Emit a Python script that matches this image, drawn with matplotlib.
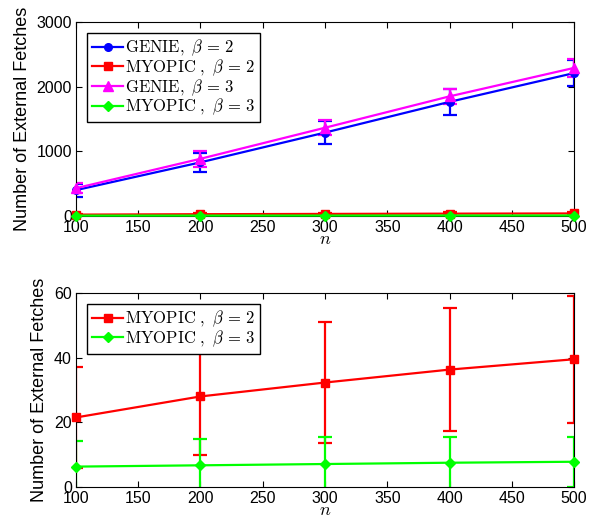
import numpy as np
import matplotlib
matplotlib.use("Agg")
import matplotlib.pyplot as plt
from matplotlib.lines import Line2D

plt.rcParams["mathtext.fontset"] = "cm"
plt.rcParams["font.family"] = ["Liberation Sans", "DejaVu Sans"]

N = [100, 200, 300, 400, 500]

# mean and error half-width
GENIE_B2 = [400, 830, 1290, 1765, 2210]
GENIE_B2_ERR = [100, 150, 180, 205, 205]
GENIE_B3 = [430, 885, 1365, 1850, 2290]
GENIE_B3_ERR = [80, 120, 120, 120, 145]
MYOPIC_B2 = [21.5, 28.0, 32.3, 36.3, 39.5]
MYOPIC_B2_ERR = [15.5, 18.2, 18.7, 19.0, 19.7]
MYOPIC_B3 = [6.3, 6.7, 7.1, 7.5, 7.8]
MYOPIC_B3_ERR = [8.0, 8.2, 8.5, 8.0, 7.7]

X_TICKS = [100, 150, 200, 250, 300, 350, 400, 450, 500]
TOP_Y_TICKS = [0, 1000, 2000, 3000]
BOTTOM_Y_TICKS = [0, 20, 40, 60]

SERIES = {
    "genie2": (GENIE_B2, GENIE_B2_ERR, r"$\mathrm{GENIE,}\ \beta\,=\,2$", "#0000ff", "o", 5.5),
    "myopic2": (MYOPIC_B2, MYOPIC_B2_ERR, r"$\mathrm{MYOPIC}\ ,\ \beta\,=\,2$", "#ff0000", "s", 5.5),
    "genie3": (GENIE_B3, GENIE_B3_ERR, r"$\mathrm{GENIE,}\ \beta\,=\,3$", "#ff00ff", "^", 6.5),
    "myopic3": (MYOPIC_B3, MYOPIC_B3_ERR, r"$\mathrm{MYOPIC}\ ,\ \beta\,=\,3$", "#00ff00", "D", 5),
}


def draw(ax, keys, yticks, ylim):
    handles = []
    for k in keys:
        y, err, label, color, marker, ms = SERIES[k]
        ax.errorbar(N, y, yerr=err, fmt="none", ecolor=color, elinewidth=1.6,
                    capsize=5, capthick=1.6)
        ax.plot(N, y, "-", marker=marker, color=color, markersize=ms,
                linewidth=1.6, clip_on=False, zorder=3)
        handles.append(Line2D([], [], color=color, marker=marker,
                              markersize=ms, linewidth=1.6, label=label))
    ax.set_xlim(100, 500)
    ax.set_ylim(*ylim)
    ax.set_xticks(X_TICKS)
    ax.set_yticks(yticks)
    ax.tick_params(direction="in", top=True, right=True, length=4,
                   labelsize=11.5, pad=3)
    ax.set_xlabel("$n$", fontsize=13, labelpad=-3)
    ax.set_ylabel("Number of External Fetches", fontsize=13, labelpad=4)
    leg = ax.legend(handles=handles, loc="upper left", fancybox=False,
                    framealpha=1, edgecolor="black", borderaxespad=0.65,
                    handlelength=1.9, handletextpad=0.1, labelspacing=-0.05,
                    borderpad=0.3, fontsize=12)
    leg.get_frame().set_linewidth(1.0)


fig = plt.figure(figsize=(6.03, 5.21), dpi=100)
ax1 = fig.add_axes([0.126, 0.5854, 0.826, 0.3724])
ax2 = fig.add_axes([0.126, 0.0653, 0.826, 0.3724])

draw(ax1, ["genie2", "myopic2", "genie3", "myopic3"], TOP_Y_TICKS, (0, 3000))
draw(ax2, ["myopic2", "myopic3"], BOTTOM_Y_TICKS, (0, 60))

fig.savefig("out.png", dpi=100)
